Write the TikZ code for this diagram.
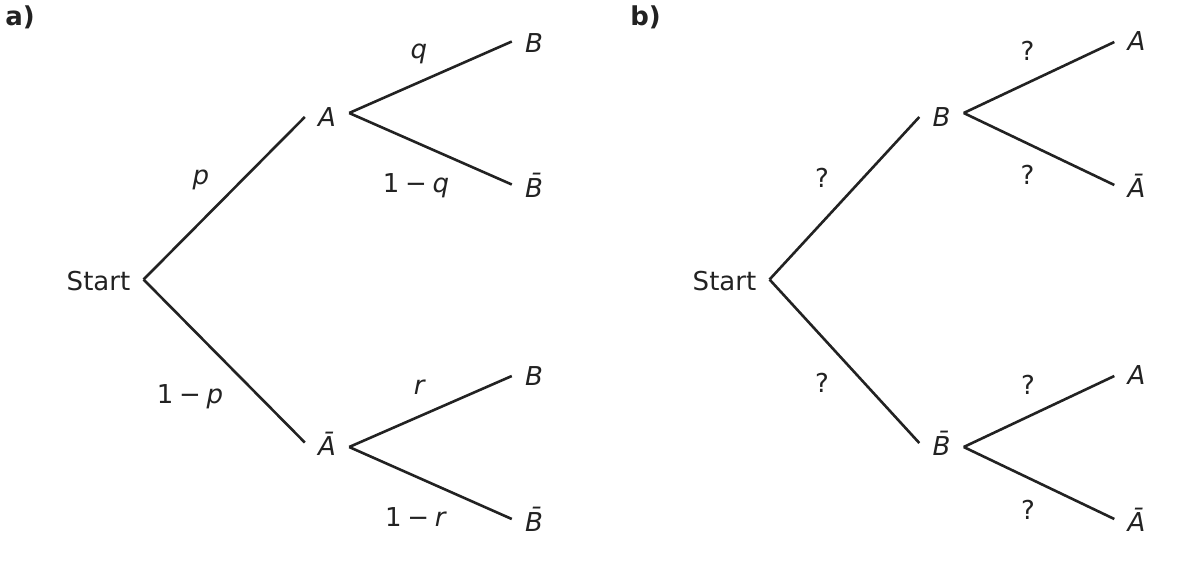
\documentclass[tikz,border=0pt]{standalone}
\usepackage{fontspec}
\setmainfont{DejaVu Sans}
\definecolor{ink}{HTML}{222222}
\newcommand{\mminus}{\hspace{0.22em}−\hspace{0.22em}}
\begin{document}
\begin{tikzpicture}[x=0.5pt,y=-0.5pt,line width=1.3pt,color=ink,font=\fontsize{13}{15}\selectfont]
        \useasboundingbox (0,0) rectangle (1180,564);
        \node[anchor=base west,inner sep=0pt,font=\fontsize{13}{15}\selectfont\bfseries] (la) at (4,25) {a)};
        \node[anchor=base west,inner sep=0pt,font=\fontsize{13}{15}\selectfont\bfseries] (lb) at (629,25) {b)};

        \begin{scope}[every node/.style={inner xsep=6pt,inner ysep=0pt,
                        text height=10.5pt,text depth=0pt,font=\fontsize{13}{15}\selectfont\itshape}]
            % tree a
            \node[font=\fontsize{13}{15}\selectfont] (Sa) at (98.5,279.5) {Start};
            \node (A) at (327,116) {A};
            \node (Ab) at (327,445) {Ā};
            \node (AB) at (534,41.5) {B};
            \node (ABb) at (534,186.5) {B̄};
            \node (AbB) at (534,375) {B};
            \node (AbBb) at (534,520.5) {B̄};
            % tree b
            \node[font=\fontsize{13}{15}\selectfont] (Sb) at (724.5,279.5) {Start};
            \node (B) at (941.5,116) {B};
            \node (Bb) at (941.5,445) {B̄};
            \node (BA) at (1136.5,40) {A};
            \node (BAb) at (1136.5,186.5) {Ā};
            \node (BbA) at (1136.5,374) {A};
            \node (BbAb) at (1136.5,521) {Ā};
        \end{scope}

        \path (Sa.east) edge ([yshift=-0.5pt]A.west);
        \path (Sa.east) edge ([yshift=1.25pt]Ab.west);
        \path ([yshift=1.5pt]A.east) edge (AB.west);
        \path ([yshift=1.5pt]A.east) edge ([yshift=1pt]ABb.west);
        \path ([yshift=-1pt]Ab.east) edge ([yshift=-0.5pt]AbB.west);
        \path ([yshift=-1pt]Ab.east) edge ([yshift=0.75pt]AbBb.west);

        \path (Sb.east) edge ([yshift=-0.5pt]B.west);
        \path (Sb.east) edge ([yshift=1pt]Bb.west);
        \path ([yshift=1.5pt]B.east) edge ([yshift=-1pt]BA.west);
        \path ([yshift=1.5pt]B.east) edge ([yshift=0.75pt]BAb.west);
        \path ([yshift=-1pt]Bb.east) edge ([yshift=-1pt]BbA.west);
        \path ([yshift=-1pt]Bb.east) edge ([yshift=1pt]BbAb.west);

        \begin{scope}[every node/.style={inner sep=0pt,yshift=-1pt}]
            \node (pA) at (201,177.5) {\textit{p}};
            \node (pAb) at (190,395) {1\mminus\textit{p}};
            \node (qB) at (419,52) {\textit{q}};
            \node (qBb) at (416,184) {1\mminus\textit{q}};
            \node (rB) at (420,385) {\textit{r}};
            \node (rBb) at (416,515.5) {1\mminus\textit{r}};
            \node (uB) at (822,176) {?};
            \node (uBb) at (822,381) {?};
            \node (uBA) at (1027.5,48.5) {?};
            \node (uBAb) at (1027.5,173) {?};
            \node (uBbA) at (1028,383) {?};
            \node (uBbAb) at (1028,508) {?};
        \end{scope}
    \end{tikzpicture}
\end{document}
